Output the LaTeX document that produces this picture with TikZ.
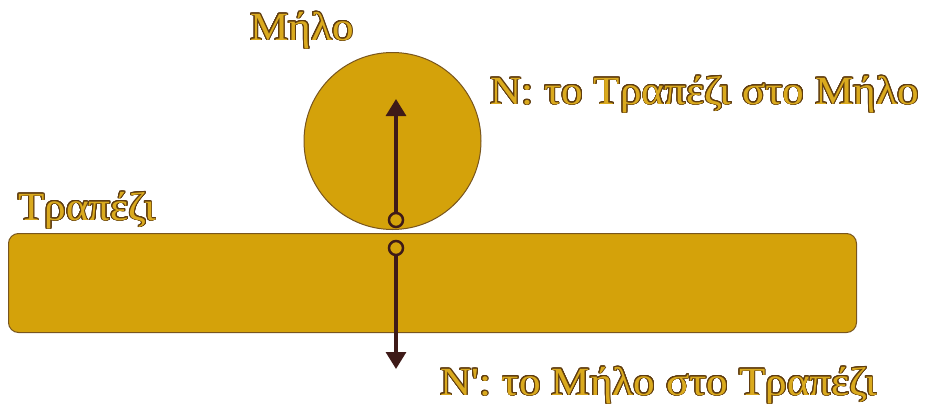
\documentclass[tikz,border=0pt]{standalone}
\usepackage{fontspec}
\setmainfont{Liberation Serif}
\usepackage{contour}
\contourlength{0.8pt}
\contournumber{24}
\usetikzlibrary{arrows.meta}
\definecolor{gold}{RGB}{212,162,10}
\definecolor{goldedge}{RGB}{120,85,30}
\definecolor{arrowbrown}{RGB}{62,26,24}
\definecolor{textgold}{RGB}{218,170,30}
\definecolor{textedge}{RGB}{95,60,15}
\newcommand{\goldtext}[1]{\scalebox{1.08}[1]{\contour{textedge}{\textcolor{textgold}{#1}}}}
\begin{document}
\begin{tikzpicture}[x=1pt,y=-1pt,
  body/.style={fill=gold,draw=goldedge,line width=1pt},
  contact/.style={circle,draw=arrowbrown,fill=gold,line width=2.5pt,minimum size=14pt,inner sep=0pt},
  force/.style={draw=arrowbrown,line width=3.2pt,-{Triangle[length=17pt,width=20pt]}},
  lbl/.style={inner sep=0pt,font=\fontsize{40}{44}\selectfont}]
\useasboundingbox (0,0) rectangle (927,407);
\node[body,rectangle,rounded corners=10pt,minimum width=848pt,minimum height=99pt,inner sep=0pt,anchor=north west] (table) at (8,233) {};
\node[body,circle,minimum size=177pt,inner sep=0pt] (apple) at (392.5,141) {};
\node[contact] (c1) at (396,220) {};
\node[contact] (c2) at (396,248) {};
\coordinate (t1) at (396,99);
\coordinate (t2) at (396,369);
\draw[force] (c1) -- (t1);
\draw[force] (c2) -- (t2);
\node[lbl,anchor=base west] (lm) at (250,40) {\goldtext{Μήλο}};
\node[lbl,anchor=base west] (ln) at (490,104) {\goldtext{N: το Τραπέζι στο Μήλο}};
\node[lbl,anchor=base west] (lt) at (18,220) {\goldtext{Τραπέζι}};
\node[lbl,anchor=base west] (lnp) at (440,395) {\goldtext{N\textquotesingle: το Μήλο στο Τραπέζι}};
\end{tikzpicture}
\end{document}
